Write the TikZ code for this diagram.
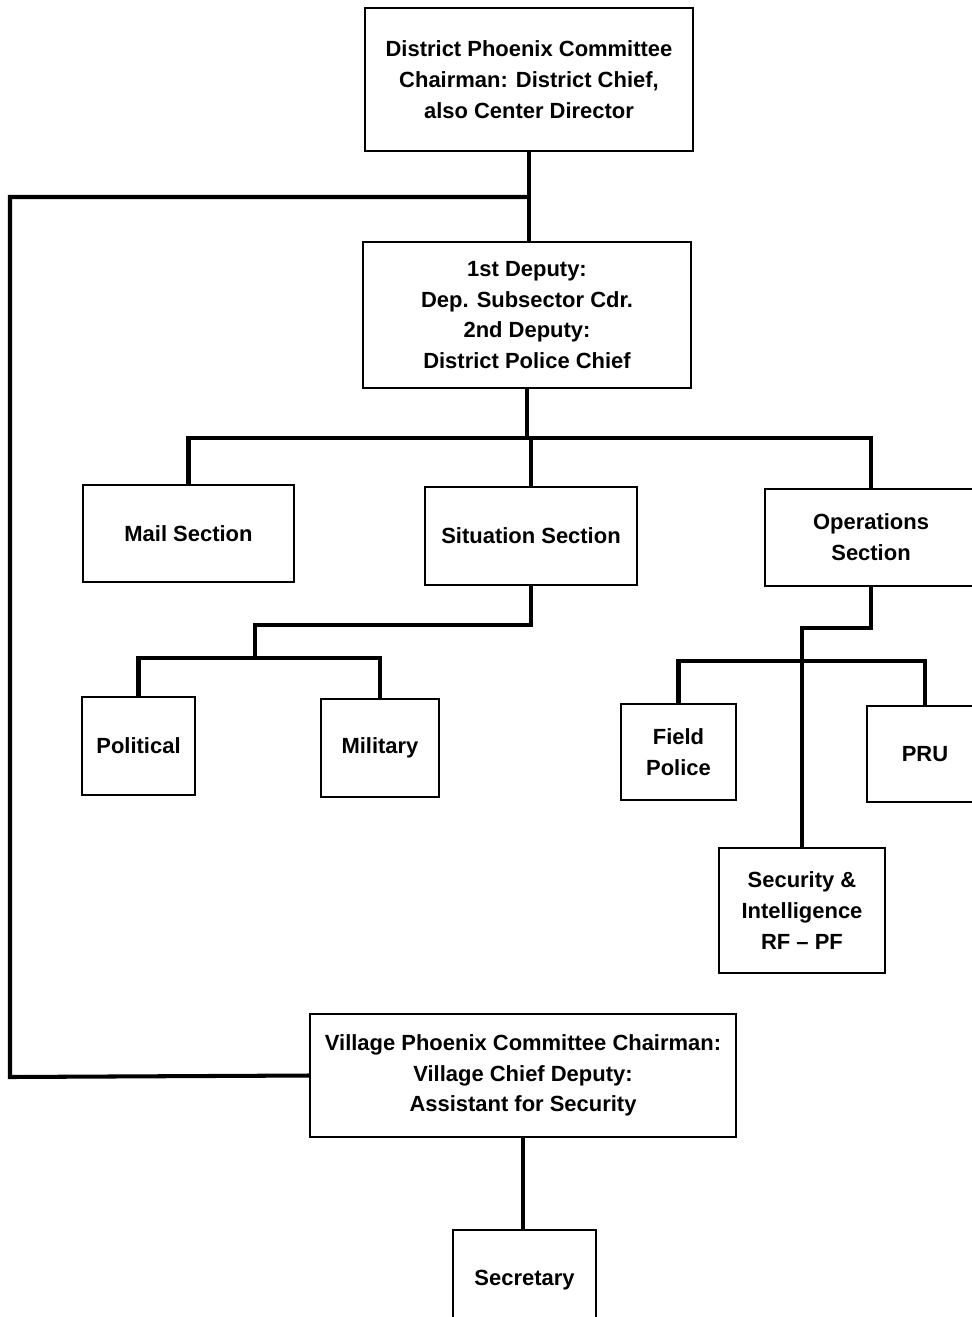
\documentclass[tikz,border=0pt]{standalone}
\usepackage{fontspec}
\setmainfont{Liberation Sans}
\begin{document}
\begin{tikzpicture}[
  x=0.02cm, y=-0.02cm,
  font=\bfseries\fontsize{12.5}{17.5}\selectfont,
  every node/.style={align=center},
  box/.style={draw, line width=1.4pt, inner sep=2pt},
  conn/.style={draw, line width=2.3pt}
]
\useasboundingbox (0,0) rectangle (971,1317);

% ====================== DISTRICT ======================
\node[box, minimum width=6.56cm, minimum height=2.86cm] (dpc) at (529,79.5)
  {District Phoenix Committee\\Chairman: District Chief,\\also Center Director};
\node[box, minimum width=6.56cm, minimum height=2.92cm] (dep) at (527,315)
  {1st Deputy:\\Dep. Subsector Cdr.\\2nd Deputy:\\District Police Chief};

% ====================== SECTIONS ======================
\node[box, minimum width=4.22cm, minimum height=1.94cm] (mail) at (188.5,533.5) {Mail Section};
\node[box, minimum width=4.24cm, minimum height=1.96cm] (sit)  at (531,536)   {Situation Section};
\node[box, minimum width=4.24cm, minimum height=1.94cm] (ops)  at (871,537.5) {Operations\\Section};

\node[box, minimum width=2.26cm, minimum height=1.96cm] (pol)  at (138.5,746) {Political};
\node[box, minimum width=2.36cm, minimum height=1.96cm] (mil)  at (380,748)   {Military};
\node[box, minimum width=2.30cm, minimum height=1.92cm] (fp)   at (678.5,752) {Field\\Police};
\node[box, minimum width=2.32cm, minimum height=1.92cm] (pru)  at (925,754)   {PRU};
\node[box, minimum width=3.32cm, minimum height=2.50cm] (sec)  at (802,910.5)
  {Security \&\\Intelligence\\RF -- PF};

% ====================== VILLAGE ======================
\node[box, minimum width=8.52cm, minimum height=2.46cm] (vil)  at (523,1075.5)
  {Village Phoenix Committee Chairman:\\Village Chief Deputy:\\Assistant for Security};
\node[box, minimum width=2.86cm, minimum height=2.00cm] (secr) at (524.5,1280) {Secretary};

% junctions
\coordinate (lt)   at (10,197);
\coordinate (lb)   at (10,1077);
\coordinate (bus1) at (530,438);
\coordinate (sj)   at (255,625);
\coordinate (sb)   at (255,658);
\coordinate (oj)   at (802,628);
\coordinate (ob)   at (802,661);

% connectors
\draw[conn] (dpc.south) -- (dpc.south |- dep.north);
\draw[conn] (dpc.south |- lt) -- (lt) -- (lb) -- (vil.west);
\draw[conn] (dep.south) -- (dep.south |- bus1);
\draw[conn] (mail.north) |- (bus1) -| (ops.north);
\draw[conn] (sit.north) -- (sit.north |- bus1);
\draw[conn] (sit.south) |- (sj) -- (sb);
\draw[conn] (pol.north) |- (sb) -| (mil.north);
\draw[conn] (ops.south) |- (oj) -- (sec.north);
\draw[conn] (fp.north) |- (ob) -| (pru.north);
\draw[conn] (vil.south) -- (vil.south |- secr.north);

\end{tikzpicture}
\end{document}
